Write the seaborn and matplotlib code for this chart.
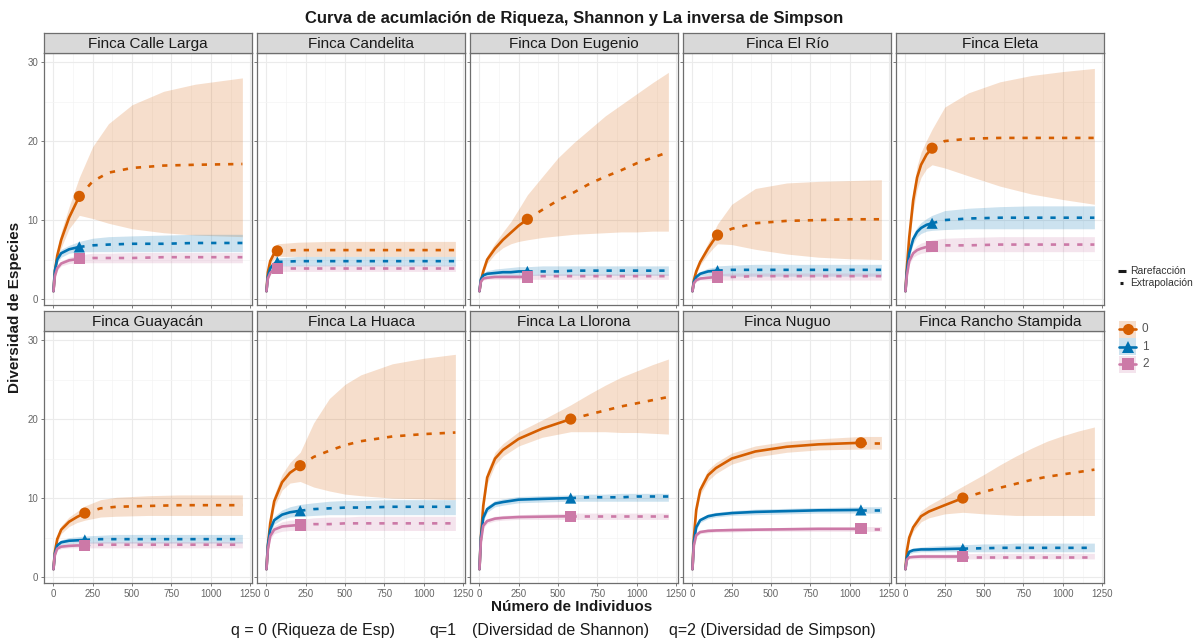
import matplotlib
matplotlib.use("Agg")
import matplotlib.pyplot as plt
import pandas as pd
import seaborn as sns
from matplotlib.patches import Rectangle

sns.set_theme(style="white")
plt.rcParams["font.family"] = ["Liberation Sans", "DejaVu Sans"]

# ---------------------------------------------------------------------------
# Diversity accumulation (iNEXT-style) per farm: sample size m, estimates for
# q = 0, 1, 2 with lower / upper confidence limits.  N is the observed sample.
# ---------------------------------------------------------------------------
CL_N = 165
CL_X = [1, 10, 25, 50, 100, 165, 250, 350, 500, 700, 900, 1200]
CL_Q0 = [1, 3.5, 5.5, 7.5, 10.3, 13.0, 14.9, 16.0, 16.6, 16.9, 17.0, 17.1]
CL_Q0_LO = [1, 3.1, 4.8, 6.5, 8.9, 10.6, 10.2, 9.6, 8.9, 8.4, 8.1, 7.9]
CL_Q0_HI = [1, 3.9, 6.2, 8.5, 11.7, 15.4, 19.3, 22.2, 24.6, 26.3, 27.2, 28.0]
CL_Q1 = [1, 3.6, 5.0, 5.8, 6.3, 6.6, 6.8, 6.9, 7.0, 7.0, 7.1, 7.1]
CL_Q1_LO = [1, 3.3, 4.6, 5.3, 5.8, 6.0, 6.0, 6.0, 6.0, 6.0, 6.0, 6.0]
CL_Q1_HI = [1, 3.9, 5.4, 6.3, 6.8, 7.3, 7.7, 7.9, 8.0, 8.1, 8.2, 8.2]
CL_Q2 = [1, 2.9, 3.9, 4.5, 4.9, 5.1, 5.2, 5.2, 5.2, 5.3, 5.3, 5.3]
CL_Q2_LO = [1, 2.7, 3.6, 4.2, 4.5, 4.6, 4.6, 4.6, 4.6, 4.6, 4.6, 4.6]
CL_Q2_HI = [1, 3.1, 4.2, 4.8, 5.3, 5.6, 5.8, 5.8, 5.9, 5.9, 5.9, 5.9]

CA_N = 70
CA_X = [1, 10, 25, 45, 70, 200, 400, 700, 1000, 1200]
CA_Q0 = [1, 3.4, 4.8, 5.6, 6.1, 6.2, 6.2, 6.2, 6.2, 6.2]
CA_Q0_LO = [1, 3.1, 4.3, 5.0, 5.4, 5.4, 5.4, 5.4, 5.4, 5.4]
CA_Q0_HI = [1, 3.7, 5.3, 6.3, 7.0, 7.2, 7.3, 7.3, 7.3, 7.3]
CA_Q1 = [1, 2.9, 3.9, 4.4, 4.7, 4.8, 4.8, 4.8, 4.8, 4.8]
CA_Q1_LO = [1, 2.7, 3.6, 4.0, 4.2, 4.2, 4.2, 4.2, 4.2, 4.2]
CA_Q1_HI = [1, 3.1, 4.2, 4.8, 5.2, 5.4, 5.4, 5.4, 5.4, 5.4]
CA_Q2 = [1, 2.6, 3.3, 3.7, 3.9, 3.9, 3.9, 3.9, 3.9, 3.9]
CA_Q2_LO = [1, 2.4, 3.1, 3.4, 3.5, 3.5, 3.5, 3.5, 3.5, 3.5]
CA_Q2_HI = [1, 2.8, 3.6, 4.0, 4.2, 4.3, 4.3, 4.3, 4.3, 4.3]

DE_N = 305
DE_X = [1, 10, 25, 50, 100, 150, 200, 250, 305, 400, 500, 600, 700, 800, 900, 1000, 1100, 1200]
DE_Q0 = [1, 2.3, 3.5, 5.0, 6.4, 7.5, 8.4, 9.3, 10.1, 11.3, 12.5, 13.5, 14.6, 15.5, 16.3, 17.2, 17.9, 18.6]
DE_Q0_LO = [1, 2.1, 3.2, 4.5, 5.7, 6.5, 7.0, 7.3, 7.5, 7.8, 8.0, 8.2, 8.3, 8.4, 8.5, 8.5, 8.6, 8.6]
DE_Q0_HI = [1, 2.5, 3.8, 5.5, 7.1, 8.5, 9.8, 11.4, 13.2, 15.5, 17.9, 19.8, 21.5, 23.2, 24.6, 26.0, 27.4, 28.7]
DE_Q1 = [1, 2.5, 3.0, 3.2, 3.3, 3.4, 3.4, 3.5, 3.5, 3.5, 3.5, 3.6, 3.6, 3.6, 3.6, 3.6, 3.6, 3.6]
DE_Q1_LO = [1, 2.3, 2.7, 2.9, 3.0, 3.0, 3.0, 3.0, 3.0, 3.0, 3.0, 3.0, 3.0, 3.0, 3.0, 3.0, 3.0, 3.0]
DE_Q1_HI = [1, 2.7, 3.3, 3.6, 3.8, 3.9, 4.0, 4.1, 4.1, 4.2, 4.2, 4.2, 4.2, 4.2, 4.2, 4.2, 4.2, 4.2]
DE_Q2 = [1, 2.2, 2.6, 2.7, 2.8, 2.8, 2.8, 2.8, 2.8, 2.9, 2.9, 2.9, 2.9, 2.9, 2.9, 2.9, 2.9, 2.9]
DE_Q2_LO = [1, 2.0, 2.4, 2.5, 2.5, 2.5, 2.5, 2.5, 2.5, 2.5, 2.5, 2.5, 2.5, 2.5, 2.5, 2.5, 2.5, 2.5]
DE_Q2_HI = [1, 2.4, 2.8, 2.9, 3.0, 3.1, 3.1, 3.1, 3.1, 3.2, 3.2, 3.2, 3.2, 3.2, 3.2, 3.2, 3.2, 3.2]

ER_N = 160
ER_X = [1, 10, 25, 50, 100, 130, 160, 250, 400, 600, 800, 1000, 1200]
ER_Q0 = [1, 2.4, 3.5, 4.7, 6.4, 7.3, 8.1, 8.9, 9.6, 9.9, 10.0, 10.1, 10.1]
ER_Q0_LO = [1, 2.2, 3.2, 4.3, 5.7, 6.4, 7.0, 6.9, 6.3, 5.7, 5.3, 5.1, 5.0]
ER_Q0_HI = [1, 2.6, 3.8, 5.1, 7.1, 8.3, 9.5, 12.0, 14.0, 14.7, 14.9, 15.0, 15.1]
ER_Q1 = [1, 2.2, 2.8, 3.2, 3.5, 3.55, 3.6, 3.7, 3.7, 3.7, 3.7, 3.7, 3.7]
ER_Q1_LO = [1, 2.0, 2.6, 2.9, 3.0, 3.0, 3.0, 2.9, 2.9, 2.9, 2.9, 2.9, 2.9]
ER_Q1_HI = [1, 2.4, 3.0, 3.5, 3.9, 4.0, 4.2, 4.3, 4.4, 4.4, 4.4, 4.4, 4.4]
ER_Q2 = [1, 2.0, 2.4, 2.6, 2.7, 2.75, 2.8, 2.8, 2.9, 2.9, 2.9, 2.9, 2.9]
ER_Q2_LO = [1, 1.8, 2.2, 2.4, 2.4, 2.4, 2.4, 2.4, 2.4, 2.4, 2.4, 2.4, 2.4]
ER_Q2_HI = [1, 2.2, 2.6, 2.8, 3.0, 3.1, 3.2, 3.3, 3.3, 3.3, 3.3, 3.3, 3.3]

EL_N = 170
EL_X = [1, 10, 25, 50, 75, 100, 135, 170, 250, 400, 600, 800, 1000, 1200]
EL_Q0 = [1, 4.0, 7.8, 12.5, 15.4, 17.0, 18.3, 19.1, 20.0, 20.3, 20.4, 20.4, 20.4, 20.4]
EL_Q0_LO = [1, 3.6, 7.0, 11.2, 13.9, 15.4, 16.5, 17.0, 16.6, 15.6, 14.3, 13.3, 12.6, 12.0]
EL_Q0_HI = [1, 4.4, 8.6, 13.8, 16.9, 18.6, 20.1, 21.5, 24.3, 26.1, 27.5, 28.3, 28.8, 29.2]
EL_Q1 = [1, 3.5, 5.8, 7.6, 8.5, 9.0, 9.4, 9.6, 10.0, 10.2, 10.3, 10.3, 10.3, 10.3]
EL_Q1_LO = [1, 3.2, 5.3, 7.0, 7.9, 8.3, 8.6, 8.7, 8.8, 8.9, 8.9, 8.9, 8.9, 8.9]
EL_Q1_HI = [1, 3.8, 6.3, 8.2, 9.1, 9.7, 10.2, 10.6, 11.2, 11.5, 11.7, 11.8, 11.8, 11.8]
EL_Q2 = [1, 3.0, 4.8, 5.8, 6.2, 6.4, 6.6, 6.7, 6.8, 6.8, 6.9, 6.9, 6.9, 6.9]
EL_Q2_LO = [1, 2.7, 4.4, 5.3, 5.6, 5.8, 5.9, 6.0, 6.0, 6.0, 6.0, 6.0, 6.0, 6.0]
EL_Q2_HI = [1, 3.3, 5.2, 6.3, 6.8, 7.1, 7.3, 7.5, 7.7, 7.8, 7.9, 7.9, 7.9, 7.9]

GU_N = 200
GU_X = [1, 10, 25, 50, 100, 150, 200, 300, 400, 600, 800, 1000, 1200]
GU_Q0 = [1, 3.2, 4.8, 6.0, 7.0, 7.6, 8.1, 8.7, 8.9, 9.0, 9.1, 9.1, 9.1]
GU_Q0_LO = [1, 2.9, 4.4, 5.5, 6.4, 6.9, 7.2, 7.6, 7.7, 7.8, 7.8, 7.8, 7.8]
GU_Q0_HI = [1, 3.5, 5.2, 6.5, 7.6, 8.3, 9.0, 9.8, 10.1, 10.3, 10.4, 10.4, 10.4]
GU_Q1 = [1, 3.0, 4.0, 4.4, 4.6, 4.65, 4.7, 4.8, 4.8, 4.8, 4.8, 4.8, 4.8]
GU_Q1_LO = [1, 2.8, 3.7, 4.1, 4.2, 4.3, 4.3, 4.3, 4.3, 4.3, 4.3, 4.3, 4.3]
GU_Q1_HI = [1, 3.2, 4.3, 4.7, 5.0, 5.1, 5.2, 5.3, 5.4, 5.4, 5.4, 5.4, 5.4]
GU_Q2 = [1, 2.8, 3.6, 3.85, 3.95, 4.0, 4.0, 4.1, 4.1, 4.1, 4.1, 4.1, 4.1]
GU_Q2_LO = [1, 2.6, 3.4, 3.6, 3.7, 3.7, 3.7, 3.7, 3.7, 3.7, 3.7, 3.7, 3.7]
GU_Q2_HI = [1, 3.0, 3.8, 4.1, 4.2, 4.3, 4.4, 4.5, 4.5, 4.5, 4.5, 4.5, 4.5]

LH_N = 215
LH_X = [1, 10, 25, 50, 100, 150, 215, 300, 400, 500, 600, 800, 1000, 1200]
LH_Q0 = [1, 4.0, 6.8, 9.6, 12.0, 13.2, 14.1, 15.2, 16.0, 16.7, 17.2, 17.8, 18.1, 18.3]
LH_Q0_LO = [1, 3.7, 6.2, 8.8, 11.0, 11.9, 12.1, 11.4, 10.9, 10.5, 10.3, 10.0, 9.9, 9.8]
LH_Q0_HI = [1, 4.3, 7.4, 10.4, 13.0, 14.5, 15.8, 19.5, 22.6, 24.4, 25.6, 27.0, 27.7, 28.2]
LH_Q1 = [1, 4.0, 6.0, 7.2, 7.9, 8.2, 8.4, 8.6, 8.7, 8.8, 8.8, 8.9, 8.9, 8.9]
LH_Q1_LO = [1, 3.7, 5.5, 6.7, 7.3, 7.6, 7.7, 7.8, 7.9, 7.9, 7.9, 7.9, 7.9, 7.9]
LH_Q1_HI = [1, 4.3, 6.5, 7.7, 8.5, 8.9, 9.2, 9.4, 9.6, 9.7, 9.7, 9.8, 9.8, 9.8]
LH_Q2 = [1, 3.5, 5.2, 6.0, 6.4, 6.5, 6.6, 6.7, 6.7, 6.8, 6.8, 6.8, 6.8, 6.8]
LH_Q2_LO = [1, 3.2, 4.8, 5.5, 5.8, 5.9, 5.9, 5.9, 5.9, 5.9, 5.9, 5.9, 5.9, 5.9]
LH_Q2_HI = [1, 3.8, 5.6, 6.5, 7.0, 7.2, 7.3, 7.5, 7.6, 7.6, 7.7, 7.7, 7.7, 7.7]

LL_N = 580
LL_X = [1, 10, 25, 50, 100, 150, 250, 400, 580, 700, 800, 900, 1000, 1100, 1200]
LL_Q0 = [1, 5.0, 9.0, 12.6, 15.0, 16.1, 17.5, 18.8, 20.0, 20.6, 21.1, 21.6, 22.0, 22.4, 22.8]
LL_Q0_LO = [1, 4.6, 8.4, 11.8, 14.2, 15.3, 16.6, 17.7, 18.4, 18.4, 18.4, 18.3, 18.3, 18.2, 18.1]
LL_Q0_HI = [1, 5.4, 9.6, 13.4, 15.8, 16.9, 18.4, 19.9, 21.8, 23.2, 24.3, 25.3, 26.1, 26.9, 27.6]
LL_Q1 = [1, 5.0, 7.5, 8.6, 9.3, 9.5, 9.8, 9.9, 10.0, 10.1, 10.1, 10.1, 10.2, 10.2, 10.2]
LL_Q1_LO = [1, 4.7, 7.1, 8.2, 8.9, 9.1, 9.4, 9.5, 9.6, 9.6, 9.6, 9.6, 9.6, 9.6, 9.6]
LL_Q1_HI = [1, 5.3, 7.9, 9.0, 9.7, 9.9, 10.2, 10.3, 10.4, 10.5, 10.5, 10.6, 10.6, 10.6, 10.6]
LL_Q2 = [1, 4.5, 6.5, 7.1, 7.4, 7.5, 7.6, 7.65, 7.7, 7.7, 7.7, 7.7, 7.7, 7.7, 7.7]
LL_Q2_LO = [1, 4.3, 6.2, 6.8, 7.1, 7.2, 7.3, 7.3, 7.3, 7.3, 7.3, 7.3, 7.3, 7.3, 7.3]
LL_Q2_HI = [1, 4.7, 6.8, 7.4, 7.7, 7.8, 7.9, 8.0, 8.1, 8.1, 8.1, 8.1, 8.1, 8.1, 8.1]

NU_N = 1070
NU_X = [1, 10, 25, 50, 100, 150, 250, 400, 600, 800, 1070, 1135, 1200]
NU_Q0 = [1, 5.0, 8.5, 11.0, 12.9, 13.8, 15.0, 15.9, 16.5, 16.8, 17.0, 17.0, 17.0]
NU_Q0_LO = [1, 4.7, 8.0, 10.4, 12.2, 13.1, 14.3, 15.2, 15.8, 16.1, 16.2, 16.2, 16.2]
NU_Q0_HI = [1, 5.3, 9.0, 11.6, 13.6, 14.5, 15.7, 16.6, 17.2, 17.5, 17.8, 17.8, 17.8]
NU_Q1 = [1, 4.5, 6.3, 7.2, 7.7, 7.9, 8.1, 8.25, 8.35, 8.45, 8.5, 8.5, 8.5]
NU_Q1_LO = [1, 4.3, 6.0, 6.9, 7.4, 7.6, 7.8, 7.9, 8.0, 8.1, 8.1, 8.1, 8.1]
NU_Q1_HI = [1, 4.7, 6.6, 7.5, 8.0, 8.2, 8.4, 8.6, 8.7, 8.8, 8.9, 8.9, 8.9]
NU_Q2 = [1, 4.0, 5.3, 5.7, 5.85, 5.9, 5.95, 6.0, 6.05, 6.1, 6.1, 6.1, 6.1]
NU_Q2_LO = [1, 3.8, 5.1, 5.5, 5.6, 5.7, 5.7, 5.8, 5.8, 5.8, 5.8, 5.8, 5.8]
NU_Q2_HI = [1, 4.2, 5.5, 5.9, 6.1, 6.1, 6.2, 6.2, 6.3, 6.4, 6.4, 6.4, 6.4]

RS_N = 365
RS_X = [1, 10, 25, 50, 100, 150, 250, 365, 500, 600, 700, 800, 900, 1000, 1100, 1200]
RS_Q0 = [1, 3.3, 5.0, 6.3, 7.7, 8.3, 9.1, 10.0, 10.8, 11.3, 11.8, 12.3, 12.7, 13.0, 13.3, 13.6]
RS_Q0_LO = [1, 3.0, 4.6, 5.8, 7.0, 7.5, 8.0, 8.2, 8.0, 7.9, 7.8, 7.8, 7.8, 7.8, 7.8, 7.8]
RS_Q0_HI = [1, 3.6, 5.4, 6.8, 8.4, 9.1, 10.2, 11.5, 13.0, 14.2, 15.3, 16.3, 17.2, 17.9, 18.5, 19.0]
RS_Q1 = [1, 2.5, 3.2, 3.4, 3.5, 3.5, 3.55, 3.6, 3.65, 3.7, 3.7, 3.7, 3.7, 3.7, 3.7, 3.7]
RS_Q1_LO = [1, 2.3, 2.9, 3.1, 3.2, 3.2, 3.2, 3.2, 3.2, 3.2, 3.2, 3.2, 3.2, 3.2, 3.2, 3.2]
RS_Q1_HI = [1, 2.7, 3.5, 3.7, 3.8, 3.9, 4.0, 4.1, 4.2, 4.2, 4.3, 4.3, 4.3, 4.3, 4.3, 4.3]
RS_Q2 = [1, 2.2, 2.5, 2.55, 2.6, 2.6, 2.6, 2.6, 2.6, 2.6, 2.6, 2.6, 2.6, 2.6, 2.6, 2.6]
RS_Q2_LO = [1, 2.0, 2.3, 2.3, 2.3, 2.3, 2.3, 2.3, 2.3, 2.3, 2.3, 2.3, 2.3, 2.3, 2.3, 2.3]
RS_Q2_HI = [1, 2.4, 2.7, 2.8, 2.9, 2.9, 2.9, 2.95, 3.0, 3.0, 3.0, 3.0, 3.0, 3.0, 3.0, 3.0]

SITE_NAMES = ["Finca Calle Larga", "Finca Candelita", "Finca Don Eugenio", "Finca El Río",
              "Finca Eleta", "Finca Guayacán", "Finca La Huaca", "Finca La Llorona",
              "Finca Nuguo", "Finca Rancho Stampida"]
SITE_KEYS = ["CL", "CA", "DE", "ER", "EL", "GU", "LH", "LL", "NU", "RS"]

X_TICKS = [0, 250, 500, 750, 1000, 1250]
Y_TICKS = [0, 10, 20, 30]
Q_ORDERS = ["0", "1", "2"]
Q_COLORS = {"0": "#D55E00", "1": "#0072B2", "2": "#CC79A7"}
Q_MARKERS = {"0": "o", "1": "^", "2": "s"}

# Long-format table built from the arrays above
g = globals()
rows = []
for name, key in zip(SITE_NAMES, SITE_KEYS):
    n_obs = g[f"{key}_N"]
    xs = g[f"{key}_X"]
    for q in Q_ORDERS:
        est = g[f"{key}_Q{q}"]
        lo = g[f"{key}_Q{q}_LO"]
        hi = g[f"{key}_Q{q}_HI"]
        for m, e, l, h in zip(xs, est, lo, hi):
            rows.append(dict(site=name, q=q, m=m, est=e, lo=l, hi=h,
                             rare=m <= n_obs, extra=m >= n_obs, obs=m == n_obs))
df = pd.DataFrame(rows)

# ---------------------------------------------------------------------------
W, H = 1197, 642
fig = plt.figure(figsize=(W / 100, H / 100), dpi=100)
fig.patch.set_facecolor("white")


def frac_box(left, top, width, height):
    return [left / W, 1 - (top + height) / H, width / W, height / H]


PANEL_W, PANEL_H, STRIP_H = 208, 252, 20
DASH = (0, (2, 3))
TEXT_DARK = "#1A1A1A"

for i, name in enumerate(SITE_NAMES):
    r, c = divmod(i, 5)
    left = 44 + c * 213
    top = 53 + r * 278
    ax = fig.add_axes(frac_box(left, top, PANEL_W, PANEL_H))
    strip = fig.add_axes(frac_box(left, top - STRIP_H, PANEL_W, STRIP_H))

    sub = df[df.site == name]
    for q in Q_ORDERS:
        d = sub[sub.q == q]
        ax.fill_between(d.m, d.lo, d.hi, color=Q_COLORS[q], alpha=0.2,
                        linewidth=0, zorder=1)

    sns.lineplot(data=sub[sub.rare], x="m", y="est", hue="q", hue_order=Q_ORDERS,
                 palette=Q_COLORS, estimator=None, errorbar=None, legend=False,
                 linewidth=1.9, ax=ax, zorder=3)
    sns.lineplot(data=sub[sub.extra], x="m", y="est", hue="q", hue_order=Q_ORDERS,
                 palette=Q_COLORS, estimator=None, errorbar=None, legend=False,
                 linewidth=1.9, linestyle=DASH, ax=ax, zorder=3)
    sns.scatterplot(data=sub[sub.obs], x="m", y="est", hue="q", style="q",
                    hue_order=Q_ORDERS, style_order=Q_ORDERS, palette=Q_COLORS,
                    markers=Q_MARKERS, s=65, linewidth=0, legend=False, ax=ax, zorder=4)

    ax.set_xlim(-59, 1261)
    ax.set_ylim(-0.75, 31.15)
    ax.set_xticks(X_TICKS)
    ax.set_yticks(Y_TICKS)
    ax.set_xticks([125, 375, 625, 875, 1125], minor=True)
    ax.set_yticks([5, 15, 25], minor=True)
    ax.grid(True, which="major", color="#EBEBEB", linewidth=0.8)
    ax.grid(True, which="minor", color="#F4F4F4", linewidth=0.5)
    ax.set_axisbelow(True)
    ax.set_facecolor("white")
    ax.set_xlabel("")
    ax.set_ylabel("")
    ax.tick_params(which="major", length=2.5, width=0.6, color="#666666",
                   labelsize=7, labelcolor="#666666", pad=1.5,
                   bottom=True, left=True)
    ax.tick_params(which="minor", length=0)
    if r == 0:
        ax.set_xticklabels([])
    if c != 0:
        ax.set_yticklabels([])
    for sp in ax.spines.values():
        sp.set_color("#6E6E6E")
        sp.set_linewidth(0.9)

    strip.set_facecolor("#D9D9D9")
    strip.set_xticks([])
    strip.set_yticks([])
    for sp in strip.spines.values():
        sp.set_color("#6E6E6E")
        sp.set_linewidth(0.9)
    strip.text(0.5, 0.47, name, ha="center", va="center", fontsize=11,
               color=TEXT_DARK, transform=strip.transAxes)

# Titles and captions
fig.text(574 / W, 1 - 18 / H, "Curva de acumlación de Riqueza, Shannon y La inversa de Simpson",
         ha="center", va="center", fontsize=12, fontweight="bold", color=TEXT_DARK)
fig.text(572 / W, 1 - 607 / H, "Número de Individuos", ha="center", va="center",
         fontsize=11, fontweight="bold", color=TEXT_DARK)
fig.text(15 / W, 1 - 307 / H, "Diversidad de Especies", ha="center", va="center",
         rotation=90, fontsize=11, fontweight="bold", color=TEXT_DARK)
fig.text(231 / W, 1 - 630 / H, "q = 0 (Riqueza de Esp)", ha="left", va="center",
         fontsize=11.5, color=TEXT_DARK)
fig.text(429 / W, 1 - 630 / H, "q=1", ha="left", va="center",
         fontsize=11.5, color=TEXT_DARK)
fig.text(472 / W, 1 - 630 / H, "(Diversidad de Shannon)", ha="left", va="center",
         fontsize=11.5, color=TEXT_DARK)
fig.text(669 / W, 1 - 630 / H, "q=2 (Diversidad de Simpson)", ha="left", va="center",
         fontsize=11.5, color=TEXT_DARK)

# Legends drawn on a transparent overlay in pixel units
lg = fig.add_axes([0, 0, 1, 1])
lg.set_xlim(0, W)
lg.set_ylim(H, 0)
lg.axis("off")
lg.patch.set_alpha(0)

lg.plot([1118, 1126], [271, 271], color=TEXT_DARK, linewidth=2.2, solid_capstyle="butt")
lg.plot([1120, 1123], [283, 283], color=TEXT_DARK, linewidth=2.2, solid_capstyle="butt")
lg.text(1130, 271, "Rarefacción", ha="left", va="center", fontsize=7.5, color="#333333")
lg.text(1130, 283, "Extrapolación", ha="left", va="center", fontsize=7.5, color="#333333")

for k, q in enumerate(Q_ORDERS):
    yc = 329 + k * 17.5
    lg.add_patch(Rectangle((1119, yc - 8.5), 17, 17, facecolor=Q_COLORS[q],
                           alpha=0.2, linewidth=0))
    lg.plot([1119, 1136], [yc, yc], color=Q_COLORS[q], linewidth=1.9)
    lg.plot([1127.5], [yc], marker=Q_MARKERS[q], color=Q_COLORS[q],
            markersize=8, markeredgewidth=0)
    lg.text(1142, yc, q, ha="left", va="center", fontsize=8.5, color="#555555")

fig.savefig("out.png", dpi=100, facecolor="white")
